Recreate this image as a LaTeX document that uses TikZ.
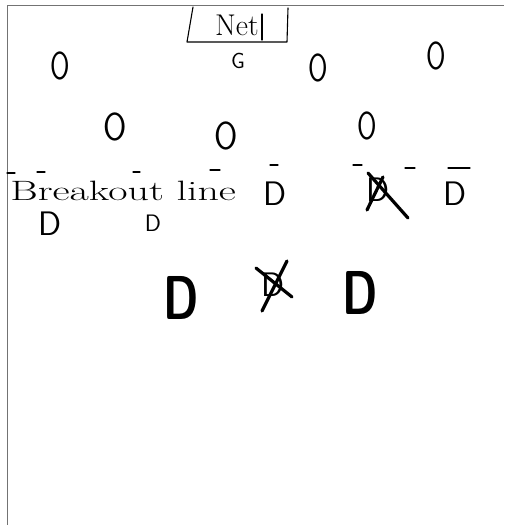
\documentclass[tikz,border=0pt]{standalone}
\usetikzlibrary{positioning}
\begin{document}
\begin{tikzpicture}[x=1pt,y=-1pt,every node/.style={inner sep=0pt,font=\sffamily},
  pen/.style={line width=1.1pt,line cap=round,line join=round},
  cross/.style={line width=3.2pt,line cap=round},
  fwd/.style={font=\sffamily\fontsize{39}{39}\selectfont,xscale=.72},
  dman/.style={font=\sffamily\fontsize{34}{34}\selectfont},
  bigd/.style={font=\sffamily\bfseries\fontsize{62}{62}\selectfont,xscale=.72}]
\useasboundingbox (0,0) rectangle (504,525);
% rink edge
\draw[line width=.6pt,black!55] (7,525)--(7,5)--(504,5);
% net
\coordinate (n1) at (193,7);
\coordinate (n2) at (187,42);
\coordinate (n3) at (287,42);
\coordinate (n4) at (288,8);
\draw[pen] (n1)--(n2)--(n3)--(n4);
\draw[pen] (262,14)--(262,40);
\node[font=\fontsize{30}{30}\selectfont] (net) at (237,25) {Net};
\node[font=\sffamily\fontsize{22}{22}\selectfont] (goalie) at (238,61) {G};
% forwards
\node[fwd] (o1) at (60,66) {O};
\node[fwd] (o2) at (318,68) {O};
\node[fwd] (o3) at (436,56) {O};
\node[fwd,xscale=1.2] (o4) at (115,127) {O};
\node[fwd,xscale=1.2] (o5) at (226,136) {O};
\node[fwd] (o6) at (367,126) {O};
% breakout line
\foreach \a/\b/\y in {7/15/173,37/45/172,133/140/172,210/220/170,270/278/165,353/362/165,405/415/168,448/470/168}
  \draw[pen] (\a,\y)--(\b,\y);
\node[font=\fontsize{28}{28}\selectfont,xscale=1.5,anchor=west] (brk) at (10,191) {Breakout line};
% defence
\node[dman] (d1) at (275,194) {D};
\node[dman] (d2) at (455,194) {D};
\node[dman] (d3) at (378,190) {D};
\node[dman] (d4) at (50,224) {D};
\node[dman,scale=.7] (d5) at (153,223) {D};
\draw[cross] (368,173)--(408,218);
\draw[cross] (383,177)--(367,210);
% bottom group
\node[bigd] (bd1) at (181,298) {D};
\node[bigd] (bd2) at (360,293) {D};
\node[dman] (bx) at (273,285) {D};
\draw[cross] (256,268)--(292,297);
\draw[cross] (287,261)--(262,311);
\end{tikzpicture}
\end{document}
